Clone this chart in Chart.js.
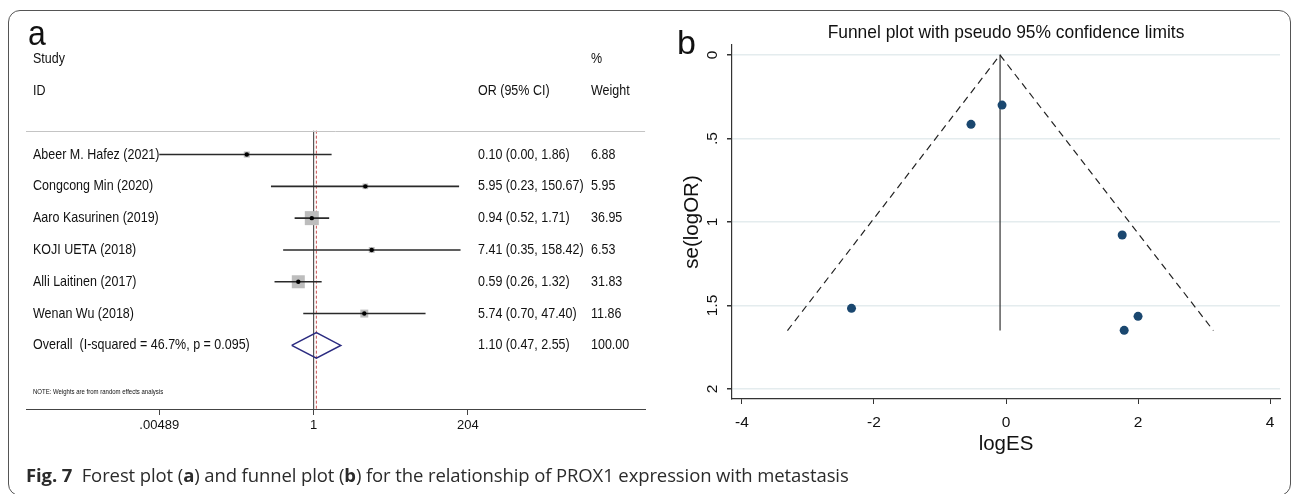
<!DOCTYPE html>
<html>
<head>
<meta charset="utf-8">
<script src="https://cdn.jsdelivr.net/npm/chart.js@4.4.1/dist/chart.umd.min.js"></script>
<style>
  html, body { margin: 0; padding: 0; background: #fff; }
  body { width: 1295px; height: 494px; position: relative; overflow: hidden; }
  #frame { position: absolute; left: 8px; top: 10px; width: 1283px; height: 486px;
           border: 1px solid #555; border-radius: 12px; box-sizing: border-box; }
  #forest { position: absolute; left: 0; top: 0; }
  #funnel { position: absolute; left: 655px; top: 0; }
  #caption { position: absolute; left: 26px; top: 462px; font-family: "Open Sans", "Noto Sans", sans-serif;
             font-size: 17px; color: #2b2b2b; white-space: nowrap; letter-spacing: -0.1px; }
</style>
</head>
<body>
<div id="frame"></div>
<canvas id="forest" width="655" height="440"></canvas>
<canvas id="funnel" width="640" height="470"></canvas>
<div id="caption"><b>Fig. 7</b>&nbsp; Forest plot (<b>a</b>) and funnel plot (<b>b</b>) for the relationship of PROX1 expression with metastasis</div>
<script>
// ---- forest plot data (a) ----
const studies = ['Abeer M. Hafez (2021)', 'Congcong Min (2020)', 'Aaro Kasurinen (2019)',
  'KOJI UETA (2018)', 'Alli Laitinen (2017)', 'Wenan Wu (2018)'];
const oddsRatio = [0.10, 5.95, 0.94, 7.41, 0.59, 5.74];
const ciLower = [0.00489, 0.23, 0.52, 0.35, 0.26, 0.70]; // first one is cut at the axis end
const ciUpper = [1.86, 150.67, 1.71, 158.42, 1.32, 47.40];
const ciText = ['0.10 (0.00, 1.86)', '5.95 (0.23, 150.67)', '0.94 (0.52, 1.71)',
  '7.41 (0.35, 158.42)', '0.59 (0.26, 1.32)', '5.74 (0.70, 47.40)'];
const weights = ['6.88', '5.95', '36.95', '6.53', '31.83', '11.86'];
const overallLabel = 'Overall  (I-squared = 46.7%, p = 0.095)';
const overallOR = [0.47, 1.10, 2.55]; // lower, estimate, upper
const overallText = '1.10 (0.47, 2.55)';
const overallWeight = '100.00';
const forestTicks = [0.00489, 1, 204];
const forestTickLabels = ['.00489', '1', '204'];

// ---- funnel plot data (b) ----
const logES = [-2.34, 1.79, -0.06, 2.00, -0.53, 1.76];
const seLogOR = [1.517, 1.649, 0.30, 1.565, 0.415, 1.078];
const limitX = [-3.31, -0.09, 3.14];
const limitY = [1.65, 0, 1.65];
const funnelXTicks = [-4, -2, 0, 2, 4];
const funnelYTicks = [0, 0.5, 1, 1.5, 2];
const funnelYLabels = ['0', '.5', '1', '1.5', '2'];

const FONT = '"Liberation Sans", Arial, sans-serif';
Chart.defaults.font.family = FONT;
Chart.defaults.color = '#222';

// forest rows: studies 0..5, overall 6
const rowLines = studies.map((s, i) => ({
  type: 'scatter', showLine: true, order: 4,
  data: [{ x: ciLower[i], y: i }, { x: ciUpper[i], y: i }],
  borderColor: '#2a2a2a', borderWidth: 1.6, pointRadius: 0
}));

const forestText = {
  id: 'forestText',
  afterDraw(chart) {
    const ctx = chart.ctx, y = chart.scales.y, area = chart.chartArea;
    ctx.save();
    ctx.fillStyle = '#111';
    ctx.textBaseline = 'alphabetic';
    ctx.font = '32px ' + FONT;
    ctx.save(); ctx.translate(28, 45); ctx.scale(1, 1.1); ctx.fillText('a', 0, 0); ctx.restore();
    ctx.textBaseline = 'middle';
    ctx.font = '12.5px ' + FONT;
    // stata text is a bit taller than it is wide
    const col = (t, x, r) => {
      ctx.save(); ctx.translate(x, y.getPixelForValue(r)); ctx.scale(1, 1.18);
      ctx.fillText(t, 0, 0); ctx.restore();
    };
    col('Study', 33, -3); col('%', 591, -3);
    col('ID', 33, -2); col('OR (95% CI)', 478, -2); col('Weight', 591, -2);
    studies.forEach((s, i) => { col(s, 33, i); col(ciText[i], 478, i); col(weights[i], 591, i); });
    col(overallLabel, 33, 6); col(overallText, 478, 6); col(overallWeight, 591, 6);
    ctx.font = '6px ' + FONT;
    col('NOTE: Weights are from random effects analysis', 33, 7.48);
    // header rule
    const hy = Math.round(y.getPixelForValue(-0.755)) + 0.5;
    ctx.strokeStyle = '#c4c4c4'; ctx.lineWidth = 1;
    ctx.beginPath(); ctx.moveTo(area.left, hy); ctx.lineTo(area.right, hy); ctx.stroke();
    ctx.restore();
  }
};

new Chart(document.getElementById('forest'), {
  type: 'scatter',
  data: {
    datasets: [
      { order: 1, data: studies.map((s, i) => ({ x: oddsRatio[i], y: i })),
        pointStyle: 'circle', pointRadius: 2.2, backgroundColor: '#000', borderWidth: 0 },
      { order: 2, showLine: true, pointRadius: 0, borderColor: '#2b2b80', borderWidth: 1.5,
        data: [{ x: overallOR[0], y: 6 }, { x: overallOR[1], y: 5.6 }, { x: overallOR[2], y: 6 },
               { x: overallOR[1], y: 6.4 }, { x: overallOR[0], y: 6 }] },
      ...rowLines,
      { order: 5, data: studies.map((s, i) => ({ x: oddsRatio[i], y: i })),
        pointStyle: 'rect', backgroundColor: '#bdbdbd', borderWidth: 0,
        pointRadius: weights.map(w => 1.63 * Math.sqrt(parseFloat(w))) },
      { order: 6, showLine: true, pointRadius: 0, borderColor: '#555', borderWidth: 1.2,
        data: [{ x: 1, y: -0.75 }, { x: 1, y: 8 }] },
      { order: 7, showLine: true, pointRadius: 0, borderColor: '#c85050', borderWidth: 1,
        borderDash: [3, 2], data: [{ x: overallOR[1], y: -0.75 }, { x: overallOR[1], y: 8 }] }
    ]
  },
  options: {
    responsive: false, animation: false,
    layout: { padding: { left: 26, right: 7, top: 40, bottom: 0 } },
    plugins: { legend: { display: false }, tooltip: { enabled: false } },
    scales: {
      x: {
        type: 'logarithmic', min: 4.95e-5, max: 9.17e4,
        afterBuildTicks: s => { s.ticks = forestTicks.map(v => ({ value: v })); },
        afterFit: s => { s.height = 31; },
        border: { color: '#444', width: 1 },
        grid: { drawOnChartArea: false, tickLength: 6, tickColor: '#444' },
        ticks: { padding: 3, font: { size: 13 }, color: '#111',
          callback: (v, i) => forestTickLabels[i], maxRotation: 0 }
      },
      y: { type: 'linear', min: -3.6, max: 8, reverse: true, display: false }
    }
  },
  plugins: [forestText]
});

// ---- funnel ----
const funnelText = {
  id: 'funnelText',
  afterDraw(chart) {
    const ctx = chart.ctx, area = chart.chartArea;
    ctx.save();
    ctx.fillStyle = '#111';
    ctx.font = '34px ' + FONT;
    ctx.textBaseline = 'alphabetic';
    ctx.fillText('b', 22, 54);
    ctx.font = '17.4px ' + FONT;
    ctx.textAlign = 'center';
    ctx.textBaseline = 'middle';
    ctx.translate((area.left + area.right) / 2, 33); ctx.scale(1, 1.05);
    ctx.fillText('Funnel plot with pseudo 95% confidence limits', 0, 0);
    ctx.restore();
  }
};

new Chart(document.getElementById('funnel'), {
  type: 'scatter',
  data: {
    datasets: [
      { order: 1, data: logES.map((v, i) => ({ x: v, y: seLogOR[i] })),
        backgroundColor: '#1a476f', borderWidth: 0, pointRadius: 4.5 },
      { order: 2, showLine: true, pointRadius: 0, borderColor: '#222', borderWidth: 1.2,
        borderDash: [7, 5], data: limitX.map((v, i) => ({ x: v, y: limitY[i] })) },
      { order: 3, showLine: true, pointRadius: 0, borderColor: '#333', borderWidth: 1.2,
        data: [{ x: limitX[1], y: limitY[1] }, { x: limitX[1], y: limitY[0] }] }
    ]
  },
  options: {
    responsive: false, animation: false,
    layout: { padding: { left: 0, right: 15, top: 45, bottom: 0 } },
    plugins: { legend: { display: false }, tooltip: { enabled: false } },
    scales: {
      x: {
        type: 'linear', min: -4.15, max: 4.15,
        afterBuildTicks: s => { s.ticks = funnelXTicks.map(v => ({ value: v })); },
        afterFit: s => { s.height = 71; },
        border: { color: '#333', width: 1.2 },
        grid: { drawOnChartArea: false, tickLength: 5, tickColor: '#333' },
        ticks: { padding: 9, font: { size: 15.5 }, color: '#111', maxRotation: 0 },
        title: { display: true, text: 'logES', font: { size: 20.5 }, color: '#111',
                 padding: { top: 0, bottom: 13 } }
      },
      y: {
        type: 'linear', min: -0.06, max: 2.06, reverse: true,
        afterBuildTicks: s => { s.ticks = funnelYTicks.map(v => ({ value: v })); },
        afterFit: s => { s.width = 77; },
        border: { color: '#333', width: 1.2 },
        grid: { color: '#e4ecee', lineWidth: 1.5, tickLength: 5, tickColor: '#333' },
        ticks: { padding: 4, font: { size: 15.5 }, color: '#111', minRotation: 90, maxRotation: 90,
                 crossAlign: 'center', callback: (v, i) => funnelYLabels[i] },
        title: { display: true, text: 'se(logOR)', font: { size: 20.5 }, color: '#111',
                 padding: { top: 25, bottom: 0 } }
      }
    }
  },
  plugins: [funnelText]
});

// stretch the caption to the width it has in the figure
const cap = document.getElementById('caption');
cap.style.fontSize = (17 * 822 / cap.getBoundingClientRect().width).toFixed(2) + 'px';
</script>
</body>
</html>
